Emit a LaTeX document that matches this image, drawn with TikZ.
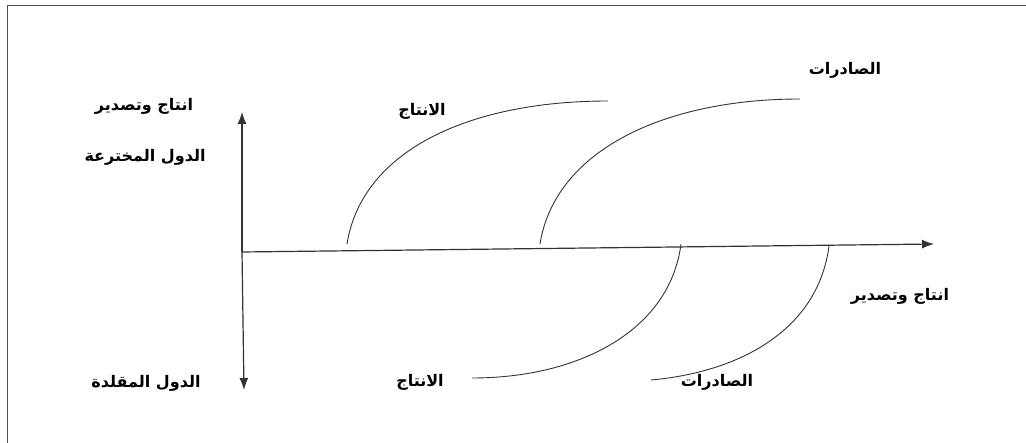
\documentclass[tikz,border=0pt]{standalone}
\usepackage{fontspec}
\usetikzlibrary{arrows.meta}
\TeXXeTstate=1
\newfontfamily\arabicfont[Script=Arabic]{DejaVu Sans}
\tikzset{
  lbl/.style={font=\arabicfont\bfseries\fontsize{16}{18}\selectfont, inner sep=0pt},
  axis/.style={draw=black!80, line width=1.2pt, -{Latex[length=12pt,width=9pt]}},
  crv/.style={draw=black!80, line width=0.9pt},
  frame/.style={draw=black!70, line width=1.6pt}
}
\begin{document}
\begin{tikzpicture}[x=1pt,y=-1pt]
\useasboundingbox (0,0) rectangle (1026,443);
% frame (top and left only)
\draw[frame] (7.5,443) -- (7.5,5.5) -- (1026,5.5);
% axes
\coordinate (o) at (242,252);
\coordinate (up) at (242,112);
\coordinate (down) at (244,390);
\coordinate (right) at (934,244);
\draw[axis] (o) -- (up);
\draw[axis] (o) -- (down);
\draw[axis] (o) -- (right);
% upper curves
\coordinate (p1s) at (347,244);
\coordinate (p1e) at (608,101);
\coordinate (e1s) at (540,244);
\coordinate (e1e) at (800,99);
\draw[crv] (p1s) .. controls (362,150) and (470,101) .. (p1e);
\draw[crv] (e1s) .. controls (555,150) and (665,99) .. (e1e);
% lower curves
\coordinate (p2s) at (681,244);
\coordinate (p2e) at (472,378);
\coordinate (e2s) at (829,246);
\coordinate (e2e) at (651,380);
\draw[crv] (p2s) .. controls (670,330) and (580,378) .. (p2e);
\draw[crv] (e2s) .. controls (818,330) and (740,372) .. (e2e);
% labels
\node[lbl] (l1) at (144,106) {\beginR انتاج وتصدير\endR};
\node[lbl] (l2) at (145,157) {\beginR الدول المخترعة\endR};
\node[lbl] (l3) at (146,383) {\beginR الدول المقلدة\endR};
\node[lbl] (l4) at (422,111) {\beginR الانتاج\endR};
\node[lbl] (l5) at (845,70) {\beginR الصادرات\endR};
\node[lbl] (l6) at (900,296) {\beginR انتاج وتصدير\endR};
\node[lbl] (l7) at (420,382) {\beginR الانتاج\endR};
\node[lbl] (l8) at (717,382) {\beginR الصادرات\endR};
\end{tikzpicture}
\end{document}
